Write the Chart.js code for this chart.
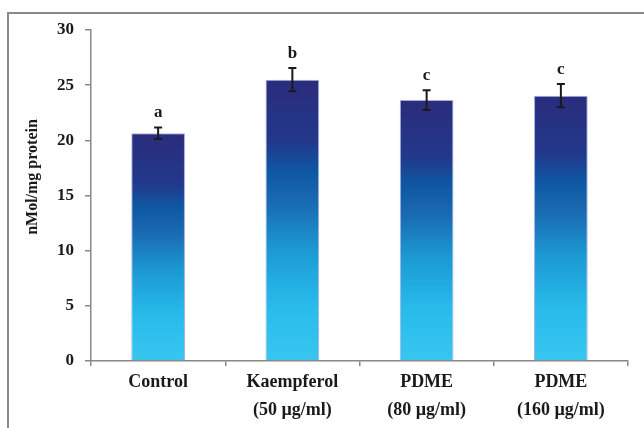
<!DOCTYPE html>
<html>
<head>
<meta charset="utf-8">
<script src="https://cdn.jsdelivr.net/npm/chart.js@4/dist/chart.umd.min.js"></script>
<style>
  body { margin: 0; background: #fff; }
  #wrap { width: 644px; height: 428px; }
</style>
</head>
<body>
<div id="wrap"><canvas id="myChart" width="644" height="428"></canvas></div>
<script>
const categories = [['Control'], ['Kaempferol', '(50 µg/ml)'], ['PDME', '(80 µg/ml)'], ['PDME', '(160 µg/ml)']]
const values = [20.65, 25.5, 23.65, 24.05]
const errors = [0.52, 1.05, 0.9, 1.05]
const letters = ['a', 'b', 'c', 'c']
const yTicks = [0, 5, 10, 15, 20, 25, 30]
const yTitle = 'nMol/mg protein'

const serif = "'Liberation Serif', 'Times New Roman', serif"

// gradient per bar, dark navy on top to light cyan at the bottom
function barGradient(context) {
    const chart = context.chart
    const area = chart.chartArea
    if (!area) return '#1670b6'
    const y = chart.scales.y
    const top = y.getPixelForValue(values[context.dataIndex])
    const bottom = y.getPixelForValue(0)
    const g = chart.ctx.createLinearGradient(0, top, 0, bottom)
    g.addColorStop(0, '#2b2c7c')
    g.addColorStop(0.22, '#22388a')
    g.addColorStop(0.32, '#0f56a2')
    g.addColorStop(0.45, '#1a6db3')
    g.addColorStop(0.6, '#1c98d3')
    g.addColorStop(0.8, '#28bbea')
    g.addColorStop(1, '#38c6f0')
    return g
}

const extras = {
    id: 'extras',
    afterDraw(chart) {
        const ctx = chart.ctx
        const x = chart.scales.x
        const y = chart.scales.y
        ctx.save()
        // frame
        ctx.strokeStyle = '#8a8a8a'
        ctx.lineWidth = 2
        ctx.beginPath()
        ctx.moveTo(8, 428)
        ctx.lineTo(8, 13)
        ctx.lineTo(644, 13)
        ctx.stroke()

        // error bars + letters
        ctx.strokeStyle = '#1a1a1a'
        ctx.fillStyle = '#1a1a1a'
        ctx.lineWidth = 2
        ctx.font = 'bold 17px ' + serif
        ctx.textAlign = 'center'
        ctx.textBaseline = 'alphabetic'
        values.forEach((v, i) => {
            const cx = x.getPixelForValue(i)
            const hi = y.getPixelForValue(v + errors[i])
            const lo = y.getPixelForValue(v - errors[i])
            ctx.beginPath()
            ctx.moveTo(cx, hi)
            ctx.lineTo(cx, lo)
            ctx.moveTo(cx - 4, hi)
            ctx.lineTo(cx + 4, hi)
            ctx.moveTo(cx - 4, lo)
            ctx.lineTo(cx + 4, lo)
            ctx.stroke()
            ctx.fillText(letters[i], cx, hi - 10)
        })

        // y axis title
        ctx.font = 'bold 16px ' + serif
        ctx.translate(33, 177)
        ctx.rotate(-Math.PI / 2)
        ctx.textBaseline = 'middle'
        ctx.fillText(yTitle, 0, 0)
        ctx.restore()
    }
}

const ctx = document.getElementById('myChart')
new Chart(ctx, {
    type: 'bar',
    data: {
        labels: categories,
        datasets: [{
            data: values,
            backgroundColor: barGradient,
            borderColor: 'rgba(70, 100, 200, 0.5)',
            borderWidth: 1,
            categoryPercentage: 1,
            barPercentage: 0.4
        }]
    },
    options: {
        responsive: false,
        animation: false,
        layout: { padding: { top: 30, right: 16, bottom: 0, left: 0 } },
        plugins: { legend: { display: false }, tooltip: { enabled: false } },
        scales: {
            x: {
                afterFit: (s) => { s.height = 67 },
                border: { color: '#888', width: 1.5 },
                grid: { display: true, drawOnChartArea: false, drawTicks: true, tickLength: 5, color: '#888', lineWidth: 1.5 },
                ticks: {
                    color: '#1a1a1a',
                    padding: 2,
                    maxRotation: 0,
                    autoSkip: false,
                    font: { family: serif, size: 18, weight: 'bold', lineHeight: 1.55 }
                }
            },
            y: {
                min: 0,
                max: 30,
                afterFit: (s) => { s.width = 91 },
                afterBuildTicks: (s) => { s.ticks = yTicks.map((v) => ({ value: v })) },
                border: { color: '#888', width: 1.5 },
                grid: { display: true, drawOnChartArea: false, drawTicks: true, tickLength: 6, color: '#888', lineWidth: 1.5 },
                ticks: {
                    color: '#1a1a1a',
                    padding: 11,
                    font: { family: serif, size: 17, weight: 'bold' }
                }
            }
        }
    },
    plugins: [extras]
})
</script>
</body>
</html>
